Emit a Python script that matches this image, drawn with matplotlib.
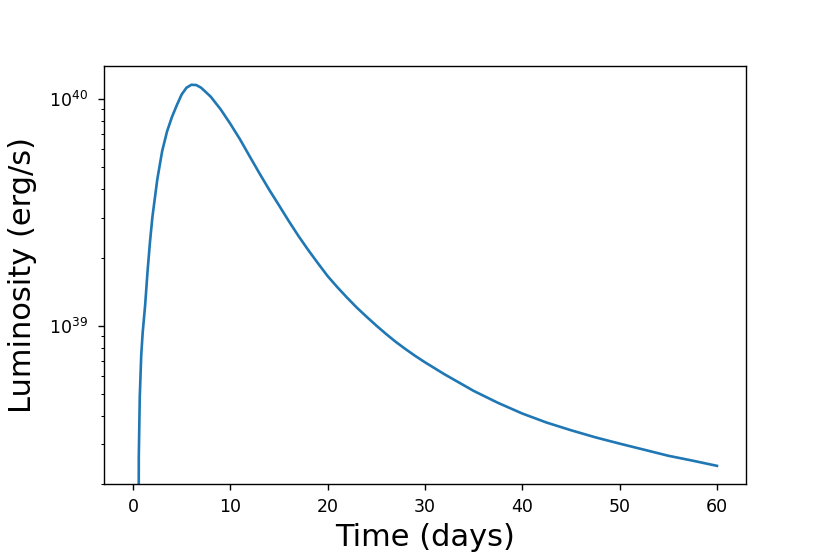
import numpy as np
import matplotlib
matplotlib.use('Agg')
import matplotlib.pyplot as plt

# light curve (time in days, luminosity in erg/s)
time_days = [0, 0.55, 0.6, 0.7, 0.85, 1, 1.25, 1.5, 1.75, 2, 2.5, 3, 3.5, 4,
             4.5, 5, 5.5, 6, 6.5, 7, 7.5, 8, 9, 10, 11, 12, 13, 14, 15, 16,
             17, 18, 19, 20, 21, 22, 23, 24, 25, 26, 27, 28, 29, 30, 32, 34,
             35, 37.5, 40, 42.5, 45, 47.5, 50, 52.5, 55, 57.5, 60]
lum = [1e30, 1e37, 2.63e38, 4.85e38, 7.41e38, 9.33e38, 1.23e39, 1.738e39,
       2.344e39, 3.02e39, 4.42e39, 5.89e39, 7.19e39, 8.32e39, 9.38e39,
       1.047e40, 1.122e40, 1.156e40, 1.153e40, 1.122e40, 1.072e40, 1.023e40,
       9.02e39, 7.78e39, 6.64e39, 5.58e39, 4.70e39, 3.98e39, 3.40e39,
       2.90e39, 2.49e39, 2.16e39, 1.888e39, 1.656e39, 1.479e39, 1.33e39,
       1.202e39, 1.096e39, 1.002e39, 9.20e38, 8.49e38, 7.89e38, 7.36e38,
       6.90e38, 6.11e38, 5.46e38, 5.16e38, 4.57e38, 4.10e38, 3.74e38,
       3.46e38, 3.22e38, 3.02e38, 2.84e38, 2.67e38, 2.54e38, 2.41e38]

fig = plt.figure(figsize=(8.3, 5.54), dpi=100)
ax = fig.add_axes([0.125, 0.126, 0.774, 0.755])

ax.plot(time_days, lum, color='#1f77b4', lw=1.9)
ax.set_yscale('log')
ax.set_ylim(2e38, 1.4e40)

ax.set_xlabel('Time (days)', fontsize=22, labelpad=5)
ax.set_ylabel('Luminosity (erg/s)', fontsize=22, labelpad=9)
ax.tick_params(which='major', labelsize=12.5, length=4.6, width=1)
ax.tick_params(axis='x', which='major', pad=5.5)
ax.tick_params(axis='y', which='major', pad=6.5)
ax.tick_params(which='minor', length=2.5, width=0.75)
for s in ax.spines.values():
  s.set_linewidth(1.0)

fig.savefig('out.png', dpi=100)
